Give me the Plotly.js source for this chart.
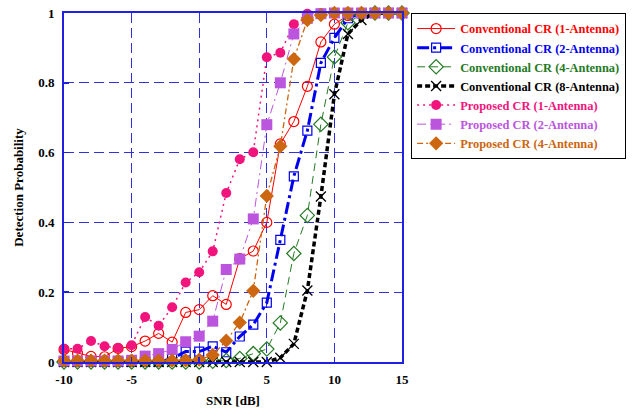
<!DOCTYPE html>
<html>
<head>
<meta charset="utf-8">
<script src="https://cdn.plot.ly/plotly-3.0.1.min.js"></script>
<style>html,body{margin:0;padding:0;background:#fff;}#chart{width:640px;height:416px;}</style>
</head>
<body>
<div id="chart"></div>
<script>
// SNR values (dB)
const snr = [-10,-9,-8,-7,-6,-5,-4,-3,-2,-1,0,1,2,3,4,5,6,7,8,9,10,11,12,13,14,15];

// Detection probability series
const conv1 = [0.036,0.025,0.016,0.015,0.039,0.044,0.060,0.082,0.057,0.142,0.150,0.190,0.165,0.296,0.318,0.400,0.625,0.689,0.790,0.917,0.968,0.993,1,1,1,1];
const conv2 = [0,0,0,0,0,0,0,0,0.010,0.030,0.030,0.045,0.028,0.073,0.107,0.170,0.350,0.532,0.663,0.857,0.929,0.985,1,1,1,1];
const conv4 = [0,0,0,0,0,0,0,0,0,0,0,0.002,0.004,0.010,0.024,0.037,0.112,0.311,0.420,0.681,0.874,0.972,0.996,1,1,1];
const conv8 = [0,0,0,0,0,0,0,0,0,0,0,0,0,0,0,0,0.012,0.052,0.205,0.474,0.767,0.940,0.980,1,1,1];
const prop1 = [0.038,0.038,0.060,0.045,0.040,0.048,0.129,0.104,0.157,0.228,0.257,0.317,0.484,0.581,0.601,0.873,0.886,0.968,0.998,1,1,1,1,1,1,1];
const prop2 = [0.003,0.003,0.003,0.003,0.003,0.005,0.017,0.024,0.036,0.058,0.074,0.117,0.265,0.295,0.410,0.680,0.800,0.940,0.985,0.998,1,1,1,1,1,1];
const prop4 = [0.004,0.004,0.004,0.004,0.004,0.004,0.004,0.004,0.004,0.005,0.007,0.020,0.061,0.113,0.204,0.476,0.618,0.868,0.980,0.994,1,1,1,1,1,1];

const names = [
  'Conventional CR (1-Antenna)',
  'Conventional CR (2-Antenna)',
  'Conventional CR (4-Antenna)',
  'Conventional CR (8-Antenna)',
  'Proposed CR (1-Antenna)',
  'Proposed CR (2-Antenna)',
  'Proposed CR (4-Antenna)'
];
const colors = ['#ff0000','#0000ee','#237a23','#000000','#f0147c','#bb55dd','#cc6611'];

function lbl(i){ return '<span style="color:' + colors[i] + '">' + names[i] + '</span>'; }

const series = [
  {y: conv1, line:{color:colors[0], width:1, dash:'solid'}, marker:{symbol:'circle-open', size:10, color:colors[0], line:{width:1.2, color:colors[0]}}},
  {y: conv2, line:{color:colors[1], width:3, dash:'12px,4px,3px,4px'}, marker:{symbol:'square-open', size:9, color:colors[1], line:{width:1.2, color:colors[1]}}},
  {y: conv4, line:{color:colors[2], width:1, dash:'8px,5px'}, marker:{symbol:'diamond-open', size:11, color:colors[2], line:{width:1.2, color:colors[2]}}},
  {y: conv8, line:{color:colors[3], width:3.5, dash:'5px,3px'}, marker:{symbol:'x-thin-open', size:10, color:colors[3], line:{width:1.3, color:colors[3]}}},
  {y: prop1, line:{color:colors[4], width:1.5, dash:'2px,4px'}, marker:{symbol:'circle', size:10, color:colors[4]}},
  {y: prop2, line:{color:colors[5], width:1, dash:'9px,4px,2px,4px'}, marker:{symbol:'square', size:11, color:colors[5]}},
  {y: prop4, line:{color:colors[6], width:1.3, dash:'6px,3px,2px,3px'}, marker:{symbol:'diamond', size:11, color:colors[6]}}
];

const data = series.map((s, i) => ({
  x: snr, y: s.y, type:'scatter', mode:'lines+markers', name: lbl(i),
  line: s.line, marker: s.marker, cliponaxis:false
}));

const axFont = {family:'"Liberation Serif", "Times New Roman", serif', size:13, color:'#000', weight:700};

const layout = {
  width:640, height:416,
  margin:{l:64, r:238, t:13, b:54, pad:0},
  paper_bgcolor:'#fff', plot_bgcolor:'#fff',
  showlegend:true,
  xaxis:{
    range:[-10,15], tickvals:[-10,-5,0,5,10,15], ticktext:['-10','-5','0','5','10','15'],
    showgrid:true, gridcolor:'#3030e0', griddash:'10px,5px', gridwidth:1.3,
    zeroline:false, showline:true, linecolor:'#2020e0', linewidth:2, mirror:true,
    ticks:'inside', ticklen:5, tickcolor:'#2020e0', tickwidth:1.5,
    tickfont:axFont, ticklabelstandoff:4, automargin:false,
    title:{text:'SNR [dB]', font:axFont, standoff:10}
  },
  yaxis:{
    range:[0,1], tickvals:[0,0.2,0.4,0.6,0.8,1], ticktext:['0','0.2','0.4','0.6','0.8','1'],
    showgrid:true, gridcolor:'#3030e0', griddash:'10px,5px', gridwidth:1.3,
    zeroline:false, showline:true, linecolor:'#2020e0', linewidth:2, mirror:true,
    ticks:'inside', ticklen:5, tickcolor:'#2020e0', tickwidth:1.5,
    tickfont:axFont, ticklabelstandoff:5, automargin:false,
    title:{text:'Detection Probability', font:axFont, standoff:12}
  },
  legend:{
    x:1.027, y:1.0, xanchor:'left', yanchor:'top',
    bgcolor:'#fff', bordercolor:'#000', borderwidth:1,
    font:{family:'"Liberation Serif", "Times New Roman", serif', size:12.4, weight:700},
    itemwidth:38, tracegroupgap:0
  }
};

Plotly.newPlot('chart', data, layout, {displayModeBar:false, staticPlot:true});
</script>
</body>
</html>
